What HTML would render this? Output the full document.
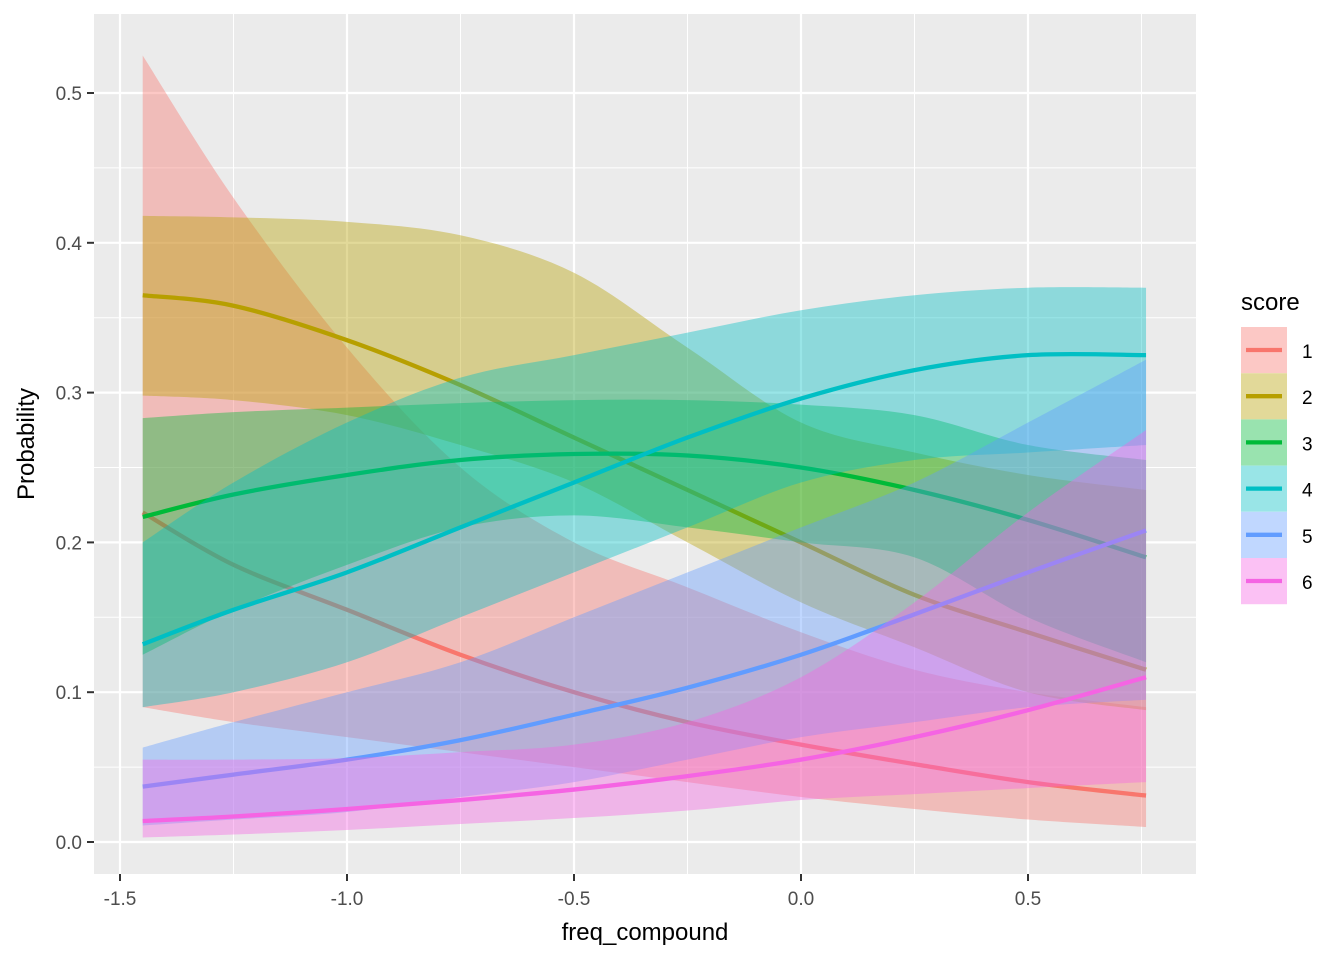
<!DOCTYPE html>
<html><head><meta charset="utf-8"><style>
body{margin:0;background:#fff;}
svg{display:block;font-family:"Liberation Sans",Arial,sans-serif;}
</style></head><body>
<svg id="chart" width="1344" height="960" viewBox="0 0 1344 960">
<rect x="94" y="14" width="1102" height="860" fill="#EBEBEB"/>
<g id="grid"></g>
<g id="series"></g>
<g id="axes"></g>
<text x="645" y="940" font-size="24" text-anchor="middle" fill="#000">freq_compound</text>
<text transform="translate(34,444) rotate(-90)" font-size="24" text-anchor="middle" fill="#000">Probability</text>
<text x="1241" y="310" font-size="24" fill="#000">score</text>
<g id="legend"></g>
</svg>
<script>
const xs = [-1.45,-1.25,-1.0,-0.75,-0.5,-0.25,0,0.25,0.5,0.76];
const scores = ["1","2","3","4","5","6"];
const colors = ["#F8766D","#B79F00","#00BA38","#00BFC4","#619CFF","#F564E3"];
const fit1 = [.22,.185,.155,.125,.10,.08,.065,.052,.04,.031];
const hi1 = [.525,.43,.33,.25,.2,.17,.14,.115,.1,.09];
const lo1 = [.09,.08,.07,.06,.05,.04,.03,.022,.015,.010];
const fit2 = [.365,.358,.335,.305,.27,.235,.2,.165,.14,.115];
const hi2 = [.418,.417,.414,.405,.38,.33,.28,.26,.245,.235];
const lo2 = [.298,.295,.285,.265,.24,.2,.16,.13,.1,.088];
const fit3 = [.217,.232,.245,.255,.259,.258,.25,.235,.215,.19];
const hi3 = [.283,.287,.29,.293,.295,.295,.292,.285,.265,.255];
const lo3 = [.125,.155,.185,.21,.218,.21,.2,.19,.15,.12];
const fit4 = [.132,.155,.18,.21,.24,.27,.296,.315,.325,.325];
const hi4 = [.2,.24,.28,.31,.325,.34,.355,.365,.37,.37];
const lo4 = [.09,.1,.12,.15,.18,.21,.24,.255,.26,.265];
const fit5 = [.037,.045,.055,.068,.085,.103,.125,.152,.18,.208];
const hi5 = [.063,.08,.1,.12,.15,.18,.21,.24,.28,.322];
const lo5 = [.011,.015,.02,.03,.04,.055,.07,.08,.09,.095];
const fit6 = [.014,.017,.022,.028,.035,.044,.055,.07,.088,.11];
const hi6 = [.055,.055,.056,.06,.065,.08,.11,.16,.22,.275];
const lo6 = [.003,.005,.008,.012,.016,.021,.028,.032,.036,.040];
const xTicks = [-1.5,-1.0,-0.5,0.0,0.5];
const xTickLabels = ["-1.5","-1.0","-0.5","0.0","0.5"];
const yTicks = [0,0.1,0.2,0.3,0.4,0.5];
const yTickLabels = ["0.0","0.1","0.2","0.3","0.4","0.5"];

const NS="http://www.w3.org/2000/svg";
const X = v => 801 + v*454;
const Y = v => 842 - v*1498;
function mk(tag, attrs, parent){const e=document.createElementNS(NS,tag);for(const k in attrs)e.setAttribute(k,attrs[k]);parent.appendChild(e);return e;}
function smooth(pts){
  let d="";
  for(let i=0;i<pts.length-1;i++){
    const p0=pts[Math.max(0,i-1)],p1=pts[i],p2=pts[i+1],p3=pts[Math.min(pts.length-1,i+2)];
    const c1=[p1[0]+(p2[0]-p0[0])/6,p1[1]+(p2[1]-p0[1])/6];
    const c2=[p2[0]-(p3[0]-p1[0])/6,p2[1]-(p3[1]-p1[1])/6];
    d+=` C${c1[0]},${c1[1]} ${c2[0]},${c2[1]} ${p2[0]},${p2[1]}`;
  }
  return d;
}
const grid=document.getElementById('grid');
[-1.25,-0.75,-0.25,0.25,0.75].forEach(v=>{if(X(v)<1196){const l=mk('line',{x1:X(v),x2:X(v),y1:14,y2:874,stroke:'#fff','stroke-width':1},grid);}});
[0.05,0.15,0.25,0.35,0.45].forEach(v=>{const l=mk('line',{x1:94,x2:1196,y1:Y(v),y2:Y(v),stroke:'#fff','stroke-width':1},grid);});
xTicks.forEach(v=>{const l=mk('line',{x1:X(v),x2:X(v),y1:14,y2:874,stroke:'#fff','stroke-width':2.2},grid);});
yTicks.forEach(v=>{const l=mk('line',{x1:94,x2:1196,y1:Y(v),y2:Y(v),stroke:'#fff','stroke-width':2.2},grid);});

const fits=[fit1,fit2,fit3,fit4,fit5,fit6],his=[hi1,hi2,hi3,hi4,hi5,hi6],los=[lo1,lo2,lo3,lo4,lo5,lo6];
const ser=document.getElementById('series');
for(let s=0;s<6;s++){
  const up=xs.map((x,i)=>[X(x),Y(his[s][i])]);
  const dn=xs.map((x,i)=>[X(x),Y(los[s][i])]).reverse();
  const d=`M${up[0][0]},${up[0][1]}`+smooth(up)+` L${dn[0][0]},${dn[0][1]}`+smooth(dn)+"Z";
  const r=mk('path',{d:d,fill:colors[s],'fill-opacity':0.4},ser);
  
  
  const lp=xs.map((x,i)=>[X(x),Y(fits[s][i])]);
  const l=mk('path',{d:`M${lp[0][0]},${lp[0][1]}`+smooth(lp),fill:'none',stroke:colors[s],'stroke-width':4.3},ser);
  
  
}
const ax=document.getElementById('axes');
xTicks.forEach((v,i)=>{
  const t=mk('line',{x1:X(v),x2:X(v),y1:874,y2:881,stroke:'#333','stroke-width':2},ax);
  
  
  const tx=mk('text',{x:X(v),y:905,'font-size':19,'text-anchor':'middle',fill:'#4D4D4D'},ax);
  tx.textContent=xTickLabels[i];
  
  
});
yTicks.forEach((v,i)=>{
  const t=mk('line',{x1:87,x2:94,y1:Y(v),y2:Y(v),stroke:'#333','stroke-width':2},ax);
  
  
  const tx=mk('text',{x:82,y:Y(v)+7,'font-size':19,'text-anchor':'end',fill:'#4D4D4D'},ax);
  tx.textContent=yTickLabels[i];
  
  
});
const lg=document.getElementById('legend');
scores.forEach((s,i)=>{
  const y0=327+i*46.2;
  const g=mk('g',{},lg);
  
  
  mk('rect',{x:1241,y:y0,width:46,height:46.2,fill:'#fff'},g);
  mk('rect',{x:1241,y:y0,width:46,height:46.2,fill:colors[i],'fill-opacity':0.4},g);
  mk('line',{x1:1246,x2:1282,y1:y0+23,y2:y0+23,stroke:colors[i],'stroke-width':4.3},g);
  const t=mk('text',{x:1302,y:y0+31,'font-size':19,fill:'#000'},g);
  t.textContent=s;
});
</script>
</body></html>
